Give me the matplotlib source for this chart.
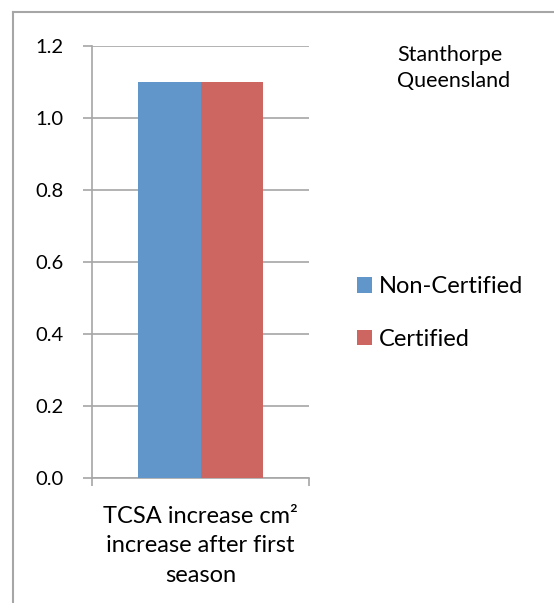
import numpy as np
import matplotlib
matplotlib.use('Agg')
import matplotlib.pyplot as plt
from matplotlib.lines import Line2D

categories = ['TCSA increase cm\u00b2\nincrease after first\nseason']
series_names = ['Non-Certified', 'Certified']
series_values = [[1.1], [1.1]]
series_colors = ['#6196CB', '#CD6560']
y_ticks = [0.0, 0.2, 0.4, 0.6, 0.8, 1.0, 1.2]
note = 'Stanthorpe\nQueensland'

plt.rcParams['font.family'] = ['Lato', 'DejaVu Sans']
grey = '#a6a6a6'

fig = plt.figure(figsize=(5.54, 6.03), dpi=100)
ax = fig.add_axes([92/554, 1-478/603, 217/554, 432/603])

x = np.arange(len(categories))
w = 0.287
bars = []
for i, (name, vals) in enumerate(zip(series_names, series_values)):
    b = ax.bar(x + (i - 0.5) * w, vals, w, color=series_colors[i], label=name, zorder=3)
    bars.append(b)

ax.set_xlim(-0.5, 0.5)
ax.set_ylim(0, 1.2)
ax.set_yticks(y_ticks)
ax.set_yticklabels(['%.1f' % v for v in y_ticks])
ax.yaxis.grid(True, color=grey, linewidth=1.2, zorder=0)
ax.set_xticks(x)
ax.set_xticklabels(categories, fontsize=17, linespacing=1.5)
ax.set_xticks([-0.5, 0.5], minor=True)
ax.tick_params(axis='x', which='major', length=0, pad=20)
ax.tick_params(axis='x', which='minor', length=6, width=1.2, color=grey, direction='out')
ax.tick_params(axis='y', length=6.5, width=1.2, color=grey, direction='out', labelsize=14.5, pad=14)
for s in ['top', 'right']:
    ax.spines[s].set_visible(False)
for s in ['left', 'bottom']:
    ax.spines[s].set_color(grey)
    ax.spines[s].set_linewidth(1.2)

fig.legend(handles=[b[0] for b in bars], labels=series_names, loc='upper left',
           bbox_to_anchor=(357/554, 1-276/603), frameon=False, fontsize=17,
           handlelength=0.64, handleheight=0.64, handletextpad=0.3, labelspacing=1.35,
           borderpad=0, borderaxespad=0)

fig.text(397/554, 1-45/603, note, ha='left', va='top', fontsize=15.5, linespacing=1.4)

# outer chart frame
fig.add_artist(Line2D([13/554, 13/554], [0, 1-12/603], color=grey, linewidth=1.5))
fig.add_artist(Line2D([13/554, 1], [1-12/603, 1-12/603], color=grey, linewidth=1.5))

fig.savefig('out.png', dpi=100)
